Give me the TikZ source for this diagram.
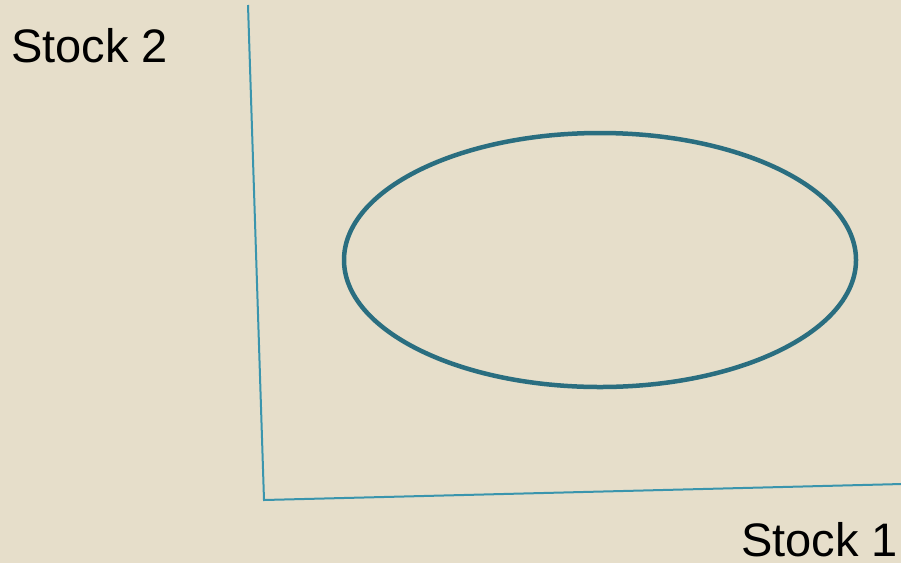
\documentclass[tikz,border=0pt]{standalone}
\usepackage{fontspec}
\setmainfont{Liberation Sans}
\usetikzlibrary{shapes.geometric}
\definecolor{bg}{HTML}{E6DECA}
\definecolor{axiscol}{HTML}{3A95AD}
\definecolor{ellcol}{HTML}{2A6E80}
\begin{document}
\begin{tikzpicture}[x=1pt,y=-1pt,
  axisline/.style={draw=axiscol,line width=2pt},
  lbl/.style={font=\fontsize{47}{50}\selectfont,inner sep=0pt}]
\useasboundingbox (0,0) rectangle (901,563);
\fill[bg] (0,0) rectangle (901,563);
\coordinate (ytop) at (248,5);
\coordinate (orig) at (264,500);
\coordinate (xend) at (902,484);
\draw[axisline] (ytop) -- (orig) -- (xend);
\node[draw=ellcol,line width=4.5pt,ellipse,minimum width=512pt,minimum height=254pt,inner sep=0pt] (ell) at (600,260) {};
\node[lbl,anchor=base west] (s2) at (11,62) {Stock 2};
\node[lbl,anchor=base east] (s1) at (898,556) {Stock 1};
\end{tikzpicture}
\end{document}
